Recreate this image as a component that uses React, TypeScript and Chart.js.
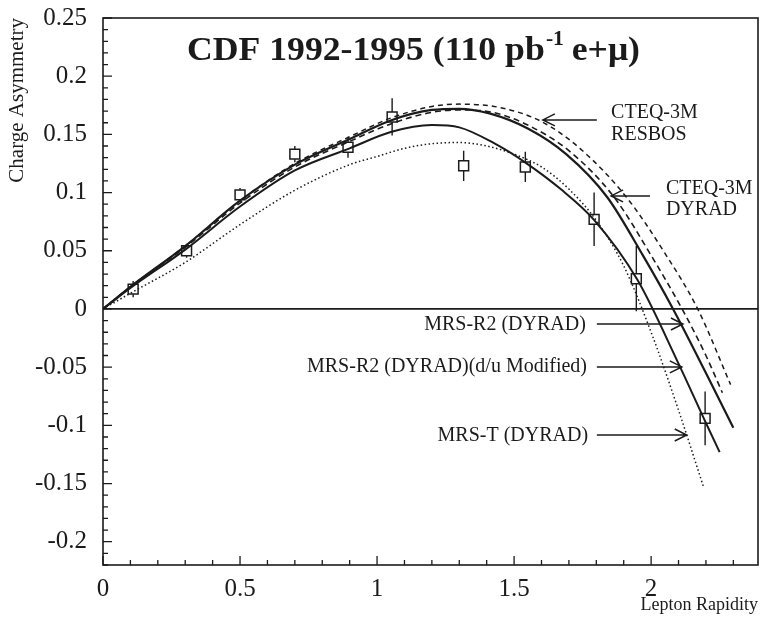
import React, { useEffect, useRef } from 'react';
import { Chart, registerables } from 'chart.js';

Chart.register(...registerables);

// ---------- axes ----------
const X_MIN = 0;
const X_MAX = 2.39;
const Y_MIN = -0.22;
const Y_MAX = 0.25;
const X_MAJOR = [0, 0.5, 1, 1.5, 2];
const X_LABELS = ['0', '0.5', '1', '1.5', '2'];
const Y_MAJOR = [-0.2, -0.15, -0.1, -0.05, 0, 0.05, 0.1, 0.15, 0.2, 0.25];
const Y_LABELS = ['-0.2', '-0.15', '-0.1', '-0.05', '0', '0.05', '0.1', '0.15', '0.2', '0.25'];
const X_MINOR_STEP = 0.1;
const Y_MINOR_STEP = 0.01;

const TITLE_MAIN = 'CDF 1992-1995 (110 pb';
const TITLE_SUP = '-1';
const TITLE_END = ' e+\u03bc)';
const X_TITLE = 'Lepton Rapidity';
const Y_TITLE = 'Charge Asymmetry';

// ---------- CDF data ----------
const DATA_X = [0.11, 0.305, 0.5, 0.7, 0.894, 1.055, 1.316, 1.541, 1.792, 1.946, 2.197];
const DATA_Y = [0.017, 0.05, 0.098, 0.133, 0.139, 0.165, 0.123, 0.122, 0.077, 0.026, -0.094];
const DATA_ERR = [0.007, 0.006, 0.006, 0.007, 0.009, 0.016, 0.013, 0.013, 0.023, 0.028, 0.023];

// ---------- predictions ----------
const RESBOS_X = [0, 0.1, 0.3, 0.5, 0.7, 0.9, 1.05, 1.2, 1.3, 1.45, 1.6, 1.74, 1.91, 2.05, 2.17, 2.29];
const RESBOS_Y = [0, 0.019, 0.054, 0.093, 0.125, 0.148, 0.164, 0.174, 0.176, 0.173, 0.161, 0.138, 0.096, 0.048, 0.0, -0.065];

const CTEQ_DY_X = [0, 0.1, 0.3, 0.5, 0.7, 0.9, 1.05, 1.2, 1.3, 1.42, 1.55, 1.7, 1.865, 2.0, 2.113, 2.2, 2.26];
const CTEQ_DY_Y = [0, 0.019, 0.053, 0.091, 0.122, 0.144, 0.159, 0.169, 0.171, 0.169, 0.158, 0.136, 0.096, 0.046, 0.0, -0.04, -0.072];

const MRSR2_X = [0, 0.1, 0.3, 0.5, 0.7, 0.9, 1.05, 1.2, 1.3, 1.41, 1.55, 1.69, 1.84, 1.97, 2.08, 2.2, 2.3];
const MRSR2_Y = [0, 0.019, 0.054, 0.093, 0.124, 0.146, 0.162, 0.171, 0.172, 0.168, 0.155, 0.133, 0.096, 0.046, 0.0, -0.055, -0.102];

const MRSR2_DU_X = [0, 0.1, 0.3, 0.5, 0.7, 0.9, 1.05, 1.2, 1.3, 1.43, 1.54, 1.67, 1.79, 1.95, 2.1, 2.2, 2.25];
const MRSR2_DU_Y = [0, 0.018, 0.051, 0.088, 0.119, 0.138, 0.152, 0.158, 0.156, 0.142, 0.126, 0.103, 0.077, 0.025, -0.047, -0.098, -0.123];

const MRST_X = [0, 0.1, 0.3, 0.5, 0.7, 0.9, 1.0, 1.1, 1.2, 1.3, 1.4, 1.5, 1.6, 1.7, 1.8, 1.9, 2.0, 2.1, 2.19];
const MRST_Y = [0, 0.0135, 0.04, 0.0725, 0.102, 0.124, 0.131, 0.138, 0.142, 0.143, 0.14, 0.133, 0.122, 0.103, 0.076, 0.037, -0.02, -0.087, -0.152];

// ---------- annotations (text, anchor in data units, arrow from -> to) ----------
const NOTE_LINES = [
  ['CTEQ-3M', 'RESBOS'],
  ['CTEQ-3M', 'DYRAD'],
  ['MRS-R2 (DYRAD)'],
  ['MRS-R2 (DYRAD)(d/u Modified)'],
  ['MRS-T (DYRAD)'],
];
const NOTE_ALIGN = ['left', 'left', 'right', 'right', 'right'];
const NOTE_TX = [1.854, 2.054, 1.762, 1.766, 1.77];
const NOTE_TY = [[0.1684, 0.1495], [0.1031, 0.0851], [-0.0137], [-0.0498], [-0.1091]];
const ARROW_X0 = [1.802, 1.996, 1.802, 1.802, 1.802];
const ARROW_X1 = [1.605, 1.854, 2.116, 2.112, 2.13];
const ARROW_Y = [0.1624, 0.0971, -0.0129, -0.0498, -0.1083];

const INK = '#1b1b1b';
const SERIF = '"Liberation Serif", "Times New Roman", serif';

function makeTicks(min: number, max: number, step: number) {
  const out: number[] = [];
  const n0 = Math.ceil(min / step - 1e-9);
  const n1 = Math.floor(max / step + 1e-9);
  for (let i = n0; i <= n1; i++) out.push(Math.round(i * step * 1000) / 1000);
  return out;
}
const X_TICKS = makeTicks(X_MIN, X_MAX, X_MINOR_STEP);
const Y_TICKS = makeTicks(Y_MIN, Y_MAX, Y_MINOR_STEP);

function majorIndex(v: number, majors: number[]) {
  return majors.findIndex((m) => Math.abs(m - v) < 1e-6);
}

const pts = (xs: number[], ys: number[]) => xs.map((x, i) => ({ x, y: ys[i] }));

const decor = {
  id: 'cdfDecor',
  beforeDatasetsDraw(chart: any) {
    const { ctx, chartArea: a, scales } = chart;
    const y0 = scales.y.getPixelForValue(0);
    ctx.save();
    ctx.strokeStyle = INK;
    ctx.lineWidth = 1.8;
    ctx.beginPath();
    ctx.moveTo(a.left, y0);
    ctx.lineTo(a.right, y0);
    ctx.stroke();
    ctx.restore();
  },
  afterDatasetsDraw(chart: any) {
    const { ctx, chartArea: a, scales } = chart;
    const xs = scales.x;
    const ys = scales.y;
    ctx.save();
    ctx.strokeStyle = INK;
    ctx.fillStyle = INK;

    // frame
    ctx.lineWidth = 1.6;
    ctx.strokeRect(a.left, a.top, a.right - a.left, a.bottom - a.top);

    // inward ticks
    ctx.lineWidth = 1.3;
    ctx.beginPath();
    for (const t of xs.ticks) {
      const px = xs.getPixelForValue(t.value);
      const len = majorIndex(t.value, X_MAJOR) >= 0 ? 9 : 5;
      ctx.moveTo(px, a.bottom);
      ctx.lineTo(px, a.bottom - len);
    }
    for (const t of ys.ticks) {
      const py = ys.getPixelForValue(t.value);
      const len = majorIndex(t.value, Y_MAJOR) >= 0 ? 9 : 5;
      ctx.moveTo(a.left, py);
      ctx.lineTo(a.left + len, py);
    }
    ctx.stroke();

    // error bars (outside the open squares)
    const half = 5;
    ctx.lineWidth = 1.4;
    ctx.beginPath();
    DATA_X.forEach((xv, i) => {
      const px = xs.getPixelForValue(xv);
      const pc = ys.getPixelForValue(DATA_Y[i]);
      const pt = ys.getPixelForValue(DATA_Y[i] + DATA_ERR[i]);
      const pb = ys.getPixelForValue(DATA_Y[i] - DATA_ERR[i]);
      if (pc - half > pt) { ctx.moveTo(px, pt); ctx.lineTo(px, pc - half); }
      if (pb > pc + half) { ctx.moveTo(px, pc + half); ctx.lineTo(px, pb); }
    });
    ctx.stroke();

    // title
    const big = `bold 33px ${SERIF}`;
    const small = `bold 20px ${SERIF}`;
    ctx.font = big;
    const w1 = ctx.measureText(TITLE_MAIN).width;
    const w3 = ctx.measureText(TITLE_END).width;
    ctx.font = small;
    const w2 = ctx.measureText(TITLE_SUP).width;
    const total = w1 + w2 + w3;
    const sx = 453 / total;
    ctx.save();
    ctx.translate(187, 60);
    ctx.scale(sx, 1);
    ctx.textBaseline = 'alphabetic';
    ctx.textAlign = 'left';
    ctx.font = big;
    ctx.fillText(TITLE_MAIN, 0, 0);
    ctx.font = small;
    ctx.fillText(TITLE_SUP, w1 + 1, -15);
    ctx.font = big;
    ctx.fillText(TITLE_END, w1 + w2, 0);
    ctx.restore();

    // annotations
    ctx.font = `20px ${SERIF}`;
    ctx.textBaseline = 'middle';
    NOTE_LINES.forEach((lines, i) => {
      ctx.textAlign = NOTE_ALIGN[i];
      const tx = xs.getPixelForValue(NOTE_TX[i]);
      lines.forEach((s, j) => ctx.fillText(s, tx, ys.getPixelForValue(NOTE_TY[i][j])));
      const ax0 = xs.getPixelForValue(ARROW_X0[i]);
      const ax1 = xs.getPixelForValue(ARROW_X1[i]);
      const ay = ys.getPixelForValue(ARROW_Y[i]);
      const dir = ax1 > ax0 ? 1 : -1;
      ctx.lineWidth = 1.5;
      ctx.beginPath();
      ctx.moveTo(ax0, ay);
      ctx.lineTo(ax1, ay);
      ctx.moveTo(ax1 - dir * 12, ay - 6);
      ctx.lineTo(ax1, ay);
      ctx.lineTo(ax1 - dir * 12, ay + 6);
      ctx.stroke();
    });
    ctx.restore();
  },
};

export default function App() {
  const ref = useRef<HTMLCanvasElement>(null);
  useEffect(() => {
    const lineDs = (label: string, xs: number[], ys: number[], width: number, dash: number[]) => ({
      label,
      data: pts(xs, ys),
      showLine: true,
      borderColor: INK,
      backgroundColor: INK,
      borderWidth: width,
      borderDash: dash,
      pointRadius: 0,
      cubicInterpolationMode: 'monotone' as const,
      fill: false,
    });
    const chart = new Chart(ref.current as HTMLCanvasElement, {
      type: 'scatter',
      data: {
        datasets: [
          {
            label: 'CDF data',
            data: pts(DATA_X, DATA_Y),
            pointStyle: 'rect',
            pointRadius: 7,
            borderWidth: 1.5,
            borderColor: INK,
            backgroundColor: 'rgba(0,0,0,0)',
            showLine: false,
          } as any,
          lineDs('CTEQ-3M RESBOS', RESBOS_X, RESBOS_Y, 1.5, [5, 4]),
          lineDs('CTEQ-3M DYRAD', CTEQ_DY_X, CTEQ_DY_Y, 1.6, [6, 4]),
          lineDs('MRS-R2 (DYRAD)', MRSR2_X, MRSR2_Y, 2.2, []),
          lineDs('MRS-R2 (DYRAD)(d/u Modified)', MRSR2_DU_X, MRSR2_DU_Y, 2.0, []),
          lineDs('MRS-T (DYRAD)', MRST_X, MRST_Y, 1.5, [1.5, 2.5]),
        ],
      },
      options: {
        responsive: false,
        animation: false,
        devicePixelRatio: 1,
        layout: { autoPadding: false, padding: { left: 0, right: 2, top: 18, bottom: 0 } },
        plugins: { legend: { display: false }, tooltip: { enabled: false } },
        scales: {
          x: {
            type: 'linear',
            min: X_MIN,
            max: X_MAX,
            grid: { display: false, drawTicks: false },
            border: { display: false },
            afterBuildTicks: (s: any) => {
              s.ticks = X_TICKS.map((v) => ({ value: v }));
            },
            afterFit: (s: any) => {
              s.height = 57;
              s.paddingLeft = 0;
              s.paddingRight = 0;
            },
            ticks: {
              autoSkip: false,
              maxRotation: 0,
              minRotation: 0,
              padding: 9,
              color: INK,
              font: { family: SERIF, size: 25 },
              callback: (v: any) => {
                const k = majorIndex(Number(v), X_MAJOR);
                return k >= 0 ? X_LABELS[k] : '';
              },
            },
            title: {
              display: true,
              text: X_TITLE,
              align: 'end',
              color: INK,
              font: { family: SERIF, size: 18 },
              padding: { top: 0, bottom: 6 },
            },
          },
          y: {
            type: 'linear',
            min: Y_MIN,
            max: Y_MAX,
            grid: { display: false, drawTicks: false },
            border: { display: false },
            afterBuildTicks: (s: any) => {
              s.ticks = Y_TICKS.map((v) => ({ value: v }));
            },
            afterFit: (s: any) => {
              s.width = 103;
              s.paddingTop = 0;
              s.paddingBottom = 0;
            },
            ticks: {
              autoSkip: false,
              padding: 16,
              color: INK,
              font: { family: SERIF, size: 25 },
              callback: (v: any) => {
                const k = majorIndex(Number(v), Y_MAJOR);
                return k >= 0 ? Y_LABELS[k] : '';
              },
            },
            title: {
              display: true,
              text: Y_TITLE,
              align: 'end',
              color: INK,
              font: { family: SERIF, size: 21 },
              padding: { top: 5, bottom: 0 },
            },
          },
        },
      },
      plugins: [decor as any],
    });
    return () => chart.destroy();
  }, []);
  return (
    <div style={{ position: 'fixed', left: 0, top: 0, width: 760, height: 622, background: '#fff' }}>
      <canvas ref={ref} width={760} height={622} style={{ display: 'block', width: 760, height: 622 }} />
    </div>
  );
}
